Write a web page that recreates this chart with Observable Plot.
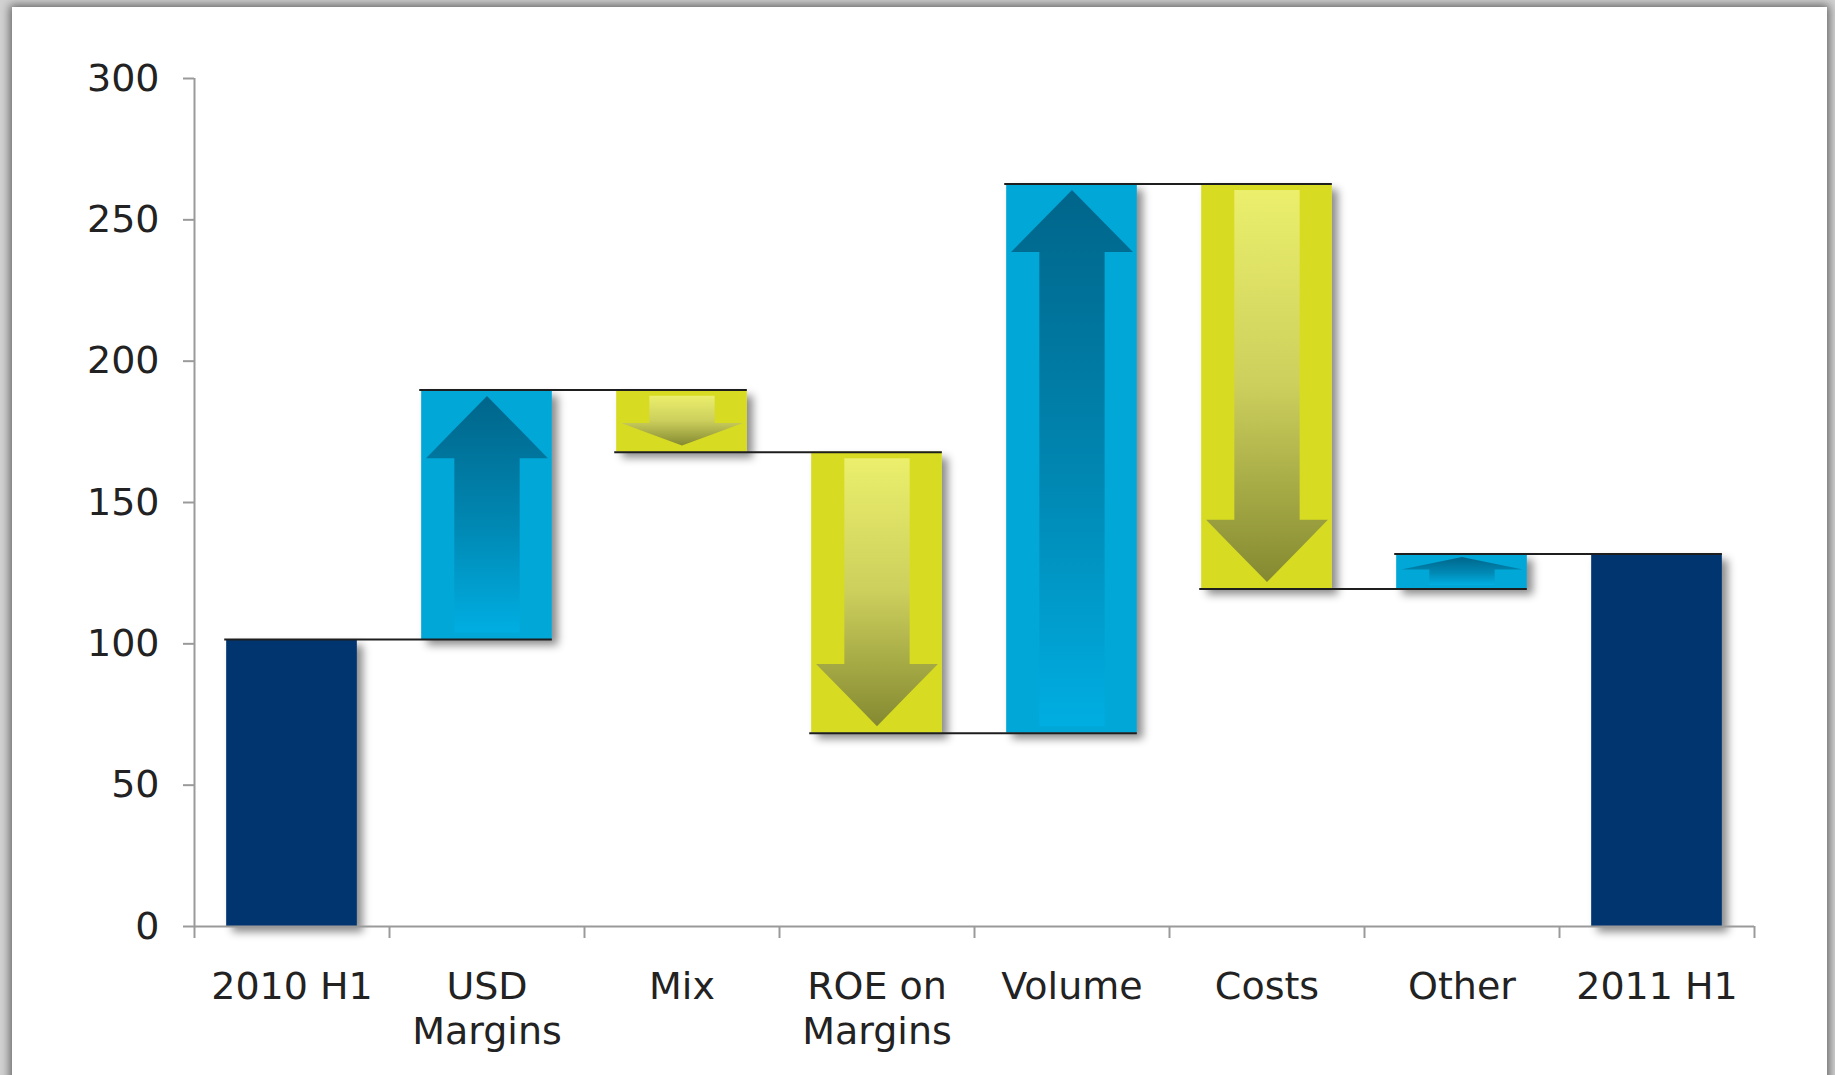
<!DOCTYPE html>
<html><head><meta charset="utf-8">
<script src="https://cdn.jsdelivr.net/npm/d3@7"></script>
<script src="https://cdn.jsdelivr.net/npm/@observablehq/plot@0.6"></script>
<style>
html,body{margin:0;padding:0;width:1835px;height:1075px;overflow:hidden;background:#d2d2d2;}
#card{position:absolute;left:12px;top:7px;width:1815px;height:1140px;background:#fff;box-shadow:0 0 9px 2px rgba(0,0,0,0.55);}
#chart{position:absolute;left:0;top:0;}
</style></head><body><div id="card"></div><div id="chart"></div>
<script>
// ---- data ----
const categories = ["2010 H1", "USD\nMargins", "Mix", "ROE on\nMargins", "Volume", "Costs", "Other", "2011 H1"];
const kinds = ["total", "delta", "delta", "delta", "delta", "delta", "delta", "total"];
const values = [101.5, 88.3, -22.0, -99.4, 194.3, -143.3, 12.4, 131.8];
const yTicks = [0, 50, 100, 150, 200, 250, 300];

const colorTotal = "#03346F", colorUp = "#00A7D7", colorDown = "#D7DC22";

// ---- derived waterfall table ----
let run = 0;
const bars = values.map((v, i) => {
  let lo, hi, start, end;
  if (kinds[i] === "total") { lo = 0; hi = v; start = 0; end = v; run = v; }
  else { start = run; end = run + v; lo = Math.min(start, end); hi = Math.max(start, end); run = end; }
  return {i, kind: kinds[i], v, start, end, lo, hi,
          fill: kinds[i] === "total" ? colorTotal : (v >= 0 ? colorUp : colorDown)};
});
const connectors = bars.slice(0, -1).map(b => ({i: b.i, level: b.kind === "total" ? b.hi : b.end}));

// arrow outlines (x, y1, y2) in data space
const arrowPts = [];
bars.filter(b => b.kind === "delta").forEach(b => {
  const up = b.v > 0, i = b.i;
  const inset = Math.min(2.3, Math.abs(b.v) * 0.1);
  const len = Math.abs(b.v) - 2 * inset;
  const head = Math.min(22, 0.45 * len);
  const hl = i + 0.19, hr = i + 0.815, c = (hl + hr) / 2, sl = i + 0.335, sr = i + 0.67;
  if (up) {
    const tip = b.end - inset, bottom = b.start + inset, base = tip - head;
    const hy = x => tip - (tip - base) * Math.abs(x - c) / (c - hl);
    [[hl, base, base], [sl, base, hy(sl)], [sl, bottom, hy(sl)], [c, bottom, tip],
     [sr, bottom, hy(sr)], [sr, base, hy(sr)], [hr, base, base]]
      .forEach(([x, y1, y2]) => arrowPts.push({id: i, up, x, y1, y2}));
  } else {
    const tip = b.end + inset, top = b.start - inset, base = tip + head;
    const hy = x => tip + (base - tip) * Math.abs(x - c) / (c - hl);
    [[hl, base, base], [sl, hy(sl), base], [sl, hy(sl), top], [c, tip, top],
     [sr, hy(sr), top], [sr, hy(sr), base], [hr, base, base]]
      .forEach(([x, y1, y2]) => arrowPts.push({id: i, up, x, y1, y2}));
  }
});

const chart = Plot.plot({
  width: 1835,
  height: 1075,
  marginLeft: 194,
  marginRight: 81,
  marginTop: 78,
  marginBottom: 149,
  style: {fontFamily: "'DejaVu Sans', Verdana, sans-serif", fontSize: "38px", color: "#222", background: "transparent", overflow: "visible"},
  x: {domain: [0, categories.length], label: null},
  y: {domain: [0, 300], label: null},
  color: {type: "identity"},
  marks: [
    Plot.rectY(bars, {x1: d => d.i + 0.165, x2: d => d.i + 0.835, y1: "lo", y2: "hi", fill: "fill"}),
    Plot.areaY(arrowPts.filter(d => d.up), {x: "x", y1: "y1", y2: "y2", z: "id", fill: "url(#gUp)", curve: "linear"}),
    Plot.areaY(arrowPts.filter(d => !d.up), {x: "x", y1: "y1", y2: "y2", z: "id", fill: "url(#gDown)", curve: "linear"}),
    Plot.ruleY(connectors, {y: "level", x1: d => d.i + 0.155, x2: d => d.i + 1.835, stroke: "#1e1e1e", strokeWidth: 2}),
    Plot.ruleX([0], {stroke: "#9a9a9a", strokeWidth: 2}),
    Plot.ruleY([0], {stroke: "#9a9a9a", strokeWidth: 2}),
    Plot.axisY({ticks: yTicks, tickSize: 11, tickPadding: 24, stroke: "#9a9a9a", strokeWidth: 2, fill: "#222", fontSize: 38, label: null}),
    Plot.axisX({ticks: d3.range(categories.length + 1), tickSize: 12, tickFormat: () => "", stroke: "#9a9a9a", strokeWidth: 2, label: null}),
    Plot.axisX({ticks: categories.map((c, i) => i + 0.5), tickSize: 0, tickPadding: 40, lineHeight: 1.2,
                tickFormat: t => categories[Math.floor(t)], fill: "#222", fontSize: 38, label: null})
  ]
});

const svg = d3.select(chart.tagName.toLowerCase() === "svg" ? chart : chart.querySelector("svg"));
const defs = svg.insert("defs", ":first-child");
const gu = defs.append("linearGradient").attr("id", "gUp").attr("x1", 0).attr("y1", 0).attr("x2", 0).attr("y2", 1);
gu.append("stop").attr("offset", 0).attr("stop-color", "#00658A");
gu.append("stop").attr("offset", 0.55).attr("stop-color", "#0088B3");
gu.append("stop").attr("offset", 1).attr("stop-color", "#00AEE2");
const gd = defs.append("linearGradient").attr("id", "gDown").attr("x1", 0).attr("y1", 0).attr("x2", 0).attr("y2", 1);
gd.append("stop").attr("offset", 0).attr("stop-color", "#EBEF6C");
gd.append("stop").attr("offset", 0.5).attr("stop-color", "#CCCF5C");
gd.append("stop").attr("offset", 1).attr("stop-color", "#848931");
const f = defs.append("filter").attr("id", "shadow").attr("x", "-20%").attr("y", "-20%").attr("width", "150%").attr("height", "150%");
f.append("feDropShadow").attr("dx", 6).attr("dy", 6).attr("stdDeviation", 4).attr("flood-color", "#000").attr("flood-opacity", 0.45);
svg.selectAll('g[aria-label="rect"]').attr("filter", "url(#shadow)");

document.getElementById("chart").appendChild(chart);
</script>
</body></html>
